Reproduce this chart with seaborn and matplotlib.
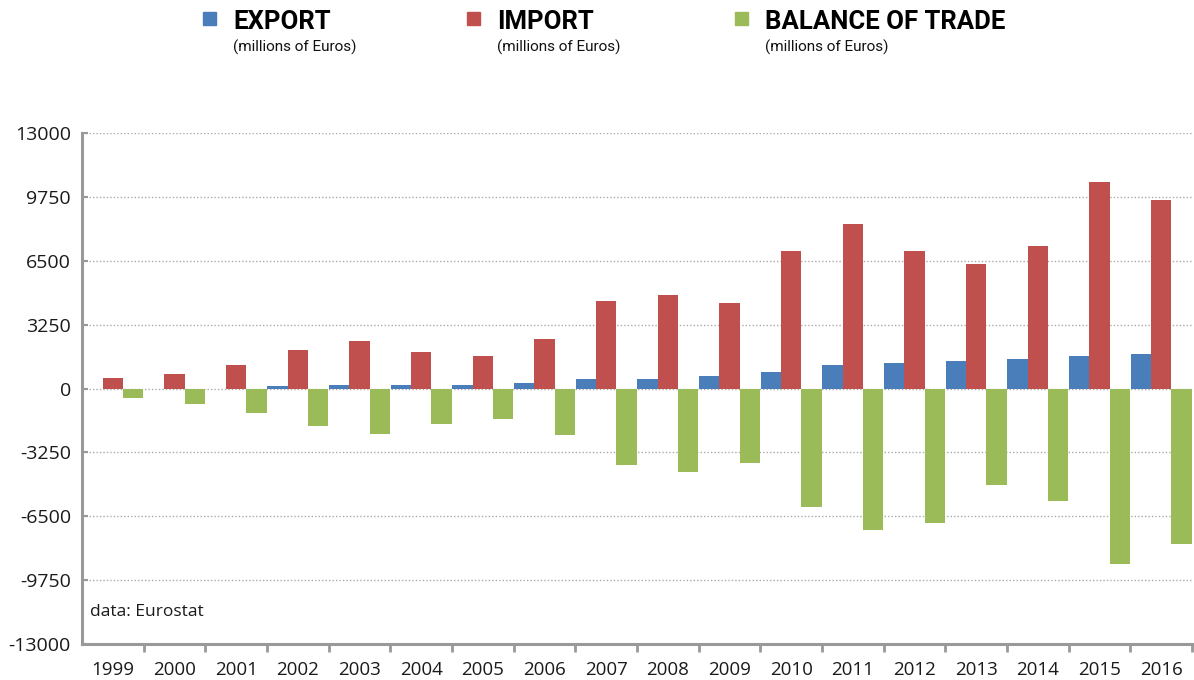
import matplotlib
matplotlib.use("Agg")
import matplotlib.pyplot as plt
import seaborn as sns
import pandas as pd
import numpy as np
from matplotlib.patches import Rectangle

years = [str(y) for y in range(1999, 2017)]
export_vals = [0, 0, 0, 150, 160, 160, 160, 260, 490, 490, 640, 850, 1210, 1310, 1410, 1510, 1670, 1770]
import_vals = [525, 760, 1210, 1940, 2400, 1840, 1630, 2500, 4430, 4780, 4330, 7005, 8370, 7005, 6350, 7250, 10490, 9580]
balance_vals = [-490, -770, -1250, -1920, -2290, -1830, -1570, -2380, -3890, -4245, -3790, -6010, -7175, -6820, -4900, -5710, -8940, -7930]
series_names = ["EXPORT", "IMPORT", "BALANCE OF TRADE"]
series_sub = "(millions of Euros)"
colors = ["#4A7EBB", "#C0504D", "#9BBB59"]
yticks = [-13000, -9750, -6500, -3250, 0, 3250, 6500, 9750, 13000]

sns.set_theme(style="white")
plt.rcParams['font.family'] = ['Open Sans', 'DejaVu Sans']

df = pd.DataFrame({
    "year": years * 3,
    "value": export_vals + import_vals + balance_vals,
    "series": [series_names[0]] * 18 + [series_names[1]] * 18 + [series_names[2]] * 18,
})

fig = plt.figure(figsize=(11.94, 6.8), dpi=100)
ax = fig.add_axes([82 / 1194, 1 - 644 / 680, (1192 - 82) / 1194, (644 - 133) / 680])

sns.barplot(data=df, x="year", y="value", hue="series", palette=colors,
            width=0.99, gap=0, dodge=True, ax=ax, legend=False, saturation=1,
            errorbar=None, linewidth=0)

ax.set_xlim(-0.5, 17.5)
ax.set_ylim(-13000, 13000)
ax.set_yticks(yticks)
ax.set_yticklabels([str(t) for t in yticks], fontsize=14, color="#1a1a1a")
ax.set_xlabel("")
ax.set_ylabel("")
ax.set_xticks(np.arange(18))
ax.set_xticklabels(years, fontsize=13.5, color="#1a1a1a")
ax.tick_params(axis="x", which="major", length=0, pad=12)
ax.tick_params(axis="y", left=True, length=4, direction="in", color="#999999", pad=8, width=1.5)
# boundary tick marks
ax.set_xticks(np.arange(18) + 0.5, minor=True)
ax.tick_params(axis="x", which="minor", bottom=True, length=6, direction="out", color="#999999", width=2)

for t in yticks[1:]:
    ax.axhline(t, color="#aaaaaa", linestyle=(0, (1, 1.5)), linewidth=1.0, zorder=0)

for s in ["top", "right"]:
    ax.spines[s].set_visible(False)
for s in ["left", "bottom"]:
    ax.spines[s].set_color("#999999")
    ax.spines[s].set_linewidth(2.2)

ax.text(0.007, 0.055, "data: Eurostat", transform=ax.transAxes, fontsize=12.5, color="#1a1a1a")

# legend header
leg_x = [203, 467, 735]
for name, col, x in zip(series_names, colors, leg_x):
    fig.patches.append(Rectangle((x / 1194, 1 - 25 / 680), 13 / 1194, 13 / 680,
                                 transform=fig.transFigure, color=col, figure=fig))
    fig.text((x + 30) / 1194, 1 - 22 / 680, name, fontsize=18.5, fontweight="bold",
             family=["Roboto", "DejaVu Sans"], va="center", ha="left", color="#000000")
    fig.text((x + 30) / 1194, 1 - 47 / 680, series_sub, fontsize=11, va="center", ha="left",
             family=["Roboto", "DejaVu Sans"], color="#111111")

fig.savefig("out.png", dpi=100)
